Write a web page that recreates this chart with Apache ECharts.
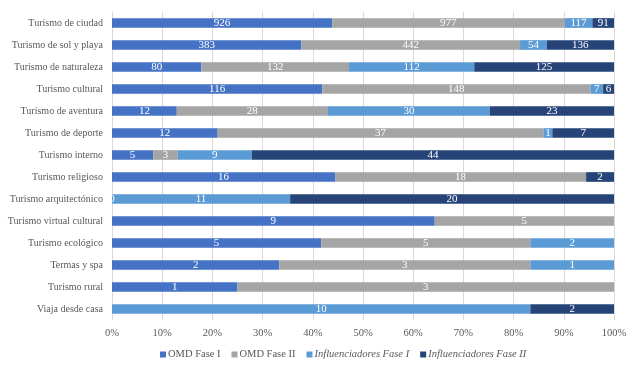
<!DOCTYPE html>
<html>
<head>
<meta charset="utf-8">
<script src="https://cdn.jsdelivr.net/npm/echarts@6/dist/echarts.min.js"></script>
<style>
  html, body { margin: 0; padding: 0; background: #fff; }
  #chart { width: 640px; height: 370px; }
</style>
</head>
<body>
<div id="chart"></div>
<script>
const categories = ['Turismo de ciudad', 'Turismo de sol y playa', 'Turismo de naturaleza', 'Turismo cultural',
  'Turismo de aventura', 'Turismo de deporte', 'Turismo interno', 'Turismo religioso', 'Turismo arquitectónico',
  'Turismo virtual cultural', 'Turismo ecológico', 'Termas y spa', 'Turismo rural', 'Viaja desde casa']
const seriesNames = ['OMD Fase I', 'OMD Fase II', 'Influenciadores Fase I', 'Influenciadores Fase II']
const omdFase1 = [926, 383, 80, 116, 12, 12, 5, 16, 0, 9, 5, 2, 1, null]
const omdFase2 = [977, 442, 132, 148, 28, 37, 3, 18, null, 5, 5, 3, 3, null]
const inflFase1 = [117, 54, 112, 7, 30, 1, 9, null, 11, null, 2, 1, null, 10]
const inflFase2 = [91, 136, 125, 6, 23, 7, 44, 2, 20, null, null, null, null, 2]
const colors = ['#4472C4', '#A5A5A5', '#5B9BD5', '#264478']
const tickLabels = ['0%', '10%', '20%', '30%', '40%', '50%', '60%', '70%', '80%', '90%', '100%']

const raw = [omdFase1, omdFase2, inflFase1, inflFase2]
const totals = categories.map((c, i) => raw.reduce((s, arr) => s + (arr[i] || 0), 0))

let chart = echarts.init(document.getElementById('chart'))
chart.setOption({
  animation: false,
  textStyle: { fontFamily: 'Liberation Serif' },
  grid: { left: 112, right: 26, top: 12, bottom: 50, outerBoundsMode: 'none' },
  legend: {
    bottom: 5,
    left: 155,
    itemWidth: 6,
    itemHeight: 6,
    itemGap: 11,
    icon: 'rect',
    textStyle: { color: '#595959', fontSize: 10.5, fontFamily: 'Liberation Serif', padding: [0, 0, 0, -3] },
    data: seriesNames.map((n, i) => ({
      name: n,
      textStyle: { fontStyle: i >= 2 ? 'italic' : 'normal' }
    }))
  },
  xAxis: {
    type: 'value',
    min: 0,
    max: 100,
    interval: 10,
    axisLine: { show: false },
    axisTick: { show: false },
    splitLine: { show: true, lineStyle: { color: '#d9d9d9', width: 1 } },
    axisLabel: {
      color: '#595959',
      fontSize: 10.5,
      margin: 8,
      formatter: v => tickLabels[Math.round(v / 10)]
    }
  },
  yAxis: {
    type: 'category',
    inverse: true,
    data: categories,
    axisLine: { show: true, lineStyle: { color: '#d9d9d9' } },
    axisTick: { show: false },
    axisLabel: { color: '#595959', fontSize: 10, margin: 9 }
  },
  series: raw.map((arr, k) => ({
    name: seriesNames[k],
    type: 'bar',
    stack: 'total',
    barWidth: '44%',
    itemStyle: { color: colors[k] },
    label: {
      show: true,
      position: 'inside',
      color: '#fff',
      fontSize: 11,
      fontFamily: 'Liberation Serif',
      formatter: p => {
        const v = arr[p.dataIndex]
        return v === null ? '' : String(v)
      }
    },
    data: arr.map((v, i) => v === null ? null : v / totals[i] * 100)
  }))
})
</script>
</body>
</html>
